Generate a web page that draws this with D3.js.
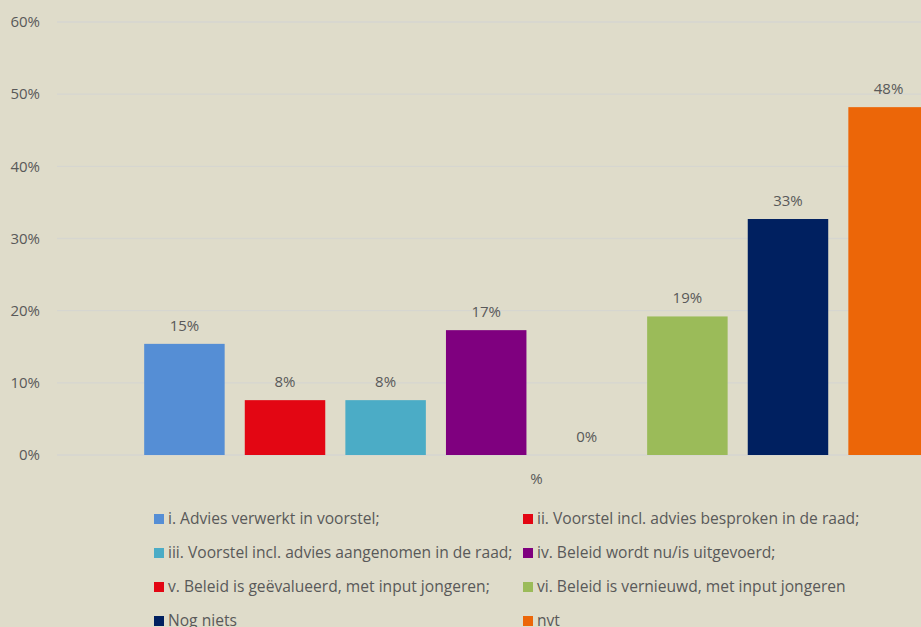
<!DOCTYPE html>
<html><head><meta charset="utf-8">
<script src="https://cdn.jsdelivr.net/npm/d3@7"></script>
<style>
html,body{margin:0;padding:0;background:#dfdcca;overflow:hidden}
svg{display:block}
text{font-family:"Open Sans",sans-serif;fill:#595959}
</style></head><body>
<svg id="c" width="921" height="627"></svg>
<script>
const categories = ["%"];
const seriesNames = [
  "i. Advies verwerkt in voorstel;",
  "ii. Voorstel incl. advies besproken in de raad;",
  "iii. Voorstel incl. advies aangenomen in de raad;",
  "iv. Beleid wordt nu/is uitgevoerd;",
  "v. Beleid is geëvalueerd, met input jongeren;",
  "vi. Beleid is vernieuwd, met input jongeren",
  "Nog niets",
  "nvt"
];
const seriesValues = [15.4, 7.6, 7.6, 17.3, 0, 19.2, 32.7, 48.2];
const seriesColors = ["#558ed5","#e30613","#4bacc6","#7f007f","#e30613","#9bbb59","#002060","#ec6608"];
const yTicks = [0,10,20,30,40,50,60];

const svg = d3.select("#c");
const plot = {left:57, right:1016, top:22, bottom:455};

const y = d3.scaleLinear().domain([0,60]).range([plot.bottom, plot.top]);
const x0 = d3.scaleBand().domain(categories).range([plot.left, plot.right]).paddingInner(0.1).paddingOuter(0.1);
const x1 = d3.scaleBand().domain(seriesNames).range([0, x0.bandwidth()]).paddingInner(0.2).paddingOuter(0);

// gridlines
svg.append("g").selectAll("line").data(yTicks).join("line")
  .attr("x1", plot.left).attr("x2", 921)
  .attr("y1", d=>y(d)).attr("y2", d=>y(d))
  .attr("stroke", "#d6d6d0").attr("stroke-width", 1.3);

// y axis labels
const yAxis = d3.axisLeft(y).tickValues(yTicks).tickFormat(d=>d+"%").tickSize(0).tickPadding(0);
const ya = svg.append("g").attr("transform","translate(40,0)").call(yAxis);
ya.select(".domain").remove();
ya.selectAll("text").attr("font-family","'Open Sans',sans-serif").attr("font-size",15).attr("fill","#595959");

// bars
const g = svg.append("g").selectAll("g").data(categories).join("g")
  .attr("transform", d=>`translate(${x0(d)},0)`);
g.selectAll("rect").data(seriesNames.map((n,i)=>({n, v:seriesValues[i], c:seriesColors[i]}))).join("rect")
  .attr("x", d=>x1(d.n)).attr("width", x1.bandwidth())
  .attr("y", d=>y(d.v)).attr("height", d=>y(0)-y(d.v))
  .attr("fill", d=>d.c);
g.selectAll("text.v").data(seriesNames.map((n,i)=>({n, v:seriesValues[i]}))).join("text")
  .attr("class","v")
  .attr("x", d=>x1(d.n)+x1.bandwidth()/2)
  .attr("y", d=>y(d.v)-13)
  .attr("text-anchor","middle").attr("font-size",15)
  .text(d=>Math.round(d.v)+"%");

// category label
svg.append("g").selectAll("text").data(categories).join("text")
  .attr("x", d=>x0(d)+x0.bandwidth()/2).attr("y", 484)
  .attr("text-anchor","middle").attr("font-size",15).text(d=>d);

// legend
const legX = [154, 523], legY0 = 519, legDY = 34;
const leg = svg.append("g").selectAll("g").data(seriesNames).join("g")
  .attr("transform",(d,i)=>`translate(${legX[i%2]},${legY0 + Math.floor(i/2)*legDY})`);
leg.append("rect").attr("x",0).attr("y",-5).attr("width",10).attr("height",10)
  .attr("fill",(d,i)=>seriesColors[i]);
leg.append("text").attr("x",14).attr("y",5).attr("font-size",15.6).text(d=>d);
</script>
</body></html>
